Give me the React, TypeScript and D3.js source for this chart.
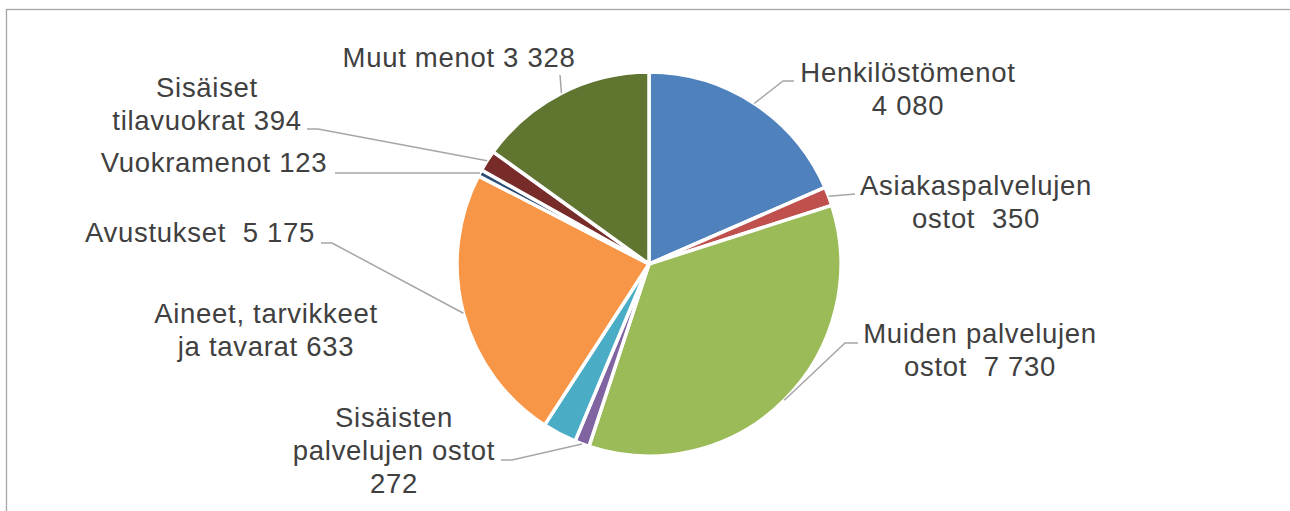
import React from "react";
import * as d3 from "d3";

const categories = [
  "Henkilöstömenot",
  "Asiakaspalvelujen ostot",
  "Muiden palvelujen ostot",
  "Sisäisten palvelujen ostot",
  "Aineet, tarvikkeet ja tavarat",
  "Avustukset",
  "Vuokramenot",
  "Sisäiset tilavuokrat",
  "Muut menot",
];
const values = [4080, 350, 7730, 272, 633, 5175, 123, 394, 3328];
const labelLines = [
  ["Henkilöstömenot", "4 080"],
  ["Asiakaspalvelujen", "ostot  350"],
  ["Muiden palvelujen", "ostot  7 730"],
  ["Sisäisten", "palvelujen ostot", "272"],
  ["Aineet, tarvikkeet", "ja tavarat 633"],
  ["Avustukset  5 175"],
  ["Vuokramenot 123"],
  ["Sisäiset", "tilavuokrat 394"],
  ["Muut menot 3 328"],
];
const colors = [
  "#4F81BD",
  "#C0504D",
  "#9BBB59",
  "#8064A2",
  "#4BACC6",
  "#F79646",
  "#2C4D75",
  "#772C2A",
  "#5F7530",
];

// layout: label center x, first baseline y
const labelPos: [number, number][] = [
  [908, 82],
  [976, 195],
  [980, 343],
  [394, 427],
  [266, 323],
  [200, 242],
  [214, 172],
  [207, 97],
  [459, 67],
];
// leader line extra points (after the start on the pie edge); null = no leader
const leaderPts: ([number, number][] | null)[] = [
  [[783, 81], [794, 81]],
  [[855, 194]],
  [[845, 343], [858, 343]],
  [[512, 460], [501, 460]],
  null,
  [[332, 243], [321, 243]],
  [[335, 173]],
  [[318, 129], [307, 129]],
  [[560, 75]],
];

const W = 1290;
const H = 511;
const cx = 649;
const cy = 264;
const R = 192;
const lineH = 33;

export default function App() {
  const pie = d3.pie<number>().sort(null).value((d) => d);
  const arcs = pie(values);
  const arcGen = d3.arc<d3.PieArcDatum<number>>().innerRadius(0).outerRadius(R);
  const line = d3.line();

  return (
    <svg
      width={W}
      height={H}
      style={{ position: "absolute", left: 0, top: 0, overflow: "hidden" }}
      fontFamily="'Liberation Sans', Arial, sans-serif"
    >
      <rect x={0} y={0} width={W} height={H} fill="#fff" />
      <rect x={6.5} y={9.5} width={W + 20} height={H + 20} fill="none" stroke="#A6A6A6" strokeWidth={1.3} />
      <g transform={`translate(${cx},${cy})`}>
        {arcs.map((a, i) => (
          <path key={i} d={arcGen(a) || ""} fill={colors[i]} stroke="#fff" strokeWidth={3.5} strokeLinejoin="round" />
        ))}
      </g>
      {arcs.map((a, i) => {
        const pts = leaderPts[i];
        if (!pts) return null;
        const mid = (a.startAngle + a.endAngle) / 2;
        const sx = cx + R * Math.sin(mid);
        const sy = cy - R * Math.cos(mid);
        const all: [number, number][] = [[sx, sy], ...pts];
        return <path key={i} d={line(all) || ""} fill="none" stroke="#A6A6A6" strokeWidth={1.5} />;
      })}
      {labelLines.map((lines, i) => (
        <text
          key={i}
          x={labelPos[i][0]}
          y={labelPos[i][1]}
          textAnchor="middle"
          fontSize={27.5}
          fill="#404040"
          letterSpacing={0.7}
          style={{ whiteSpace: "pre" }}
        >
          {lines.map((l, j) => (
            <tspan key={j} x={labelPos[i][0]} y={labelPos[i][1] + j * lineH}>
              {l}
            </tspan>
          ))}
        </text>
      ))}
      <title>{categories.join(", ")}</title>
    </svg>
  );
}
